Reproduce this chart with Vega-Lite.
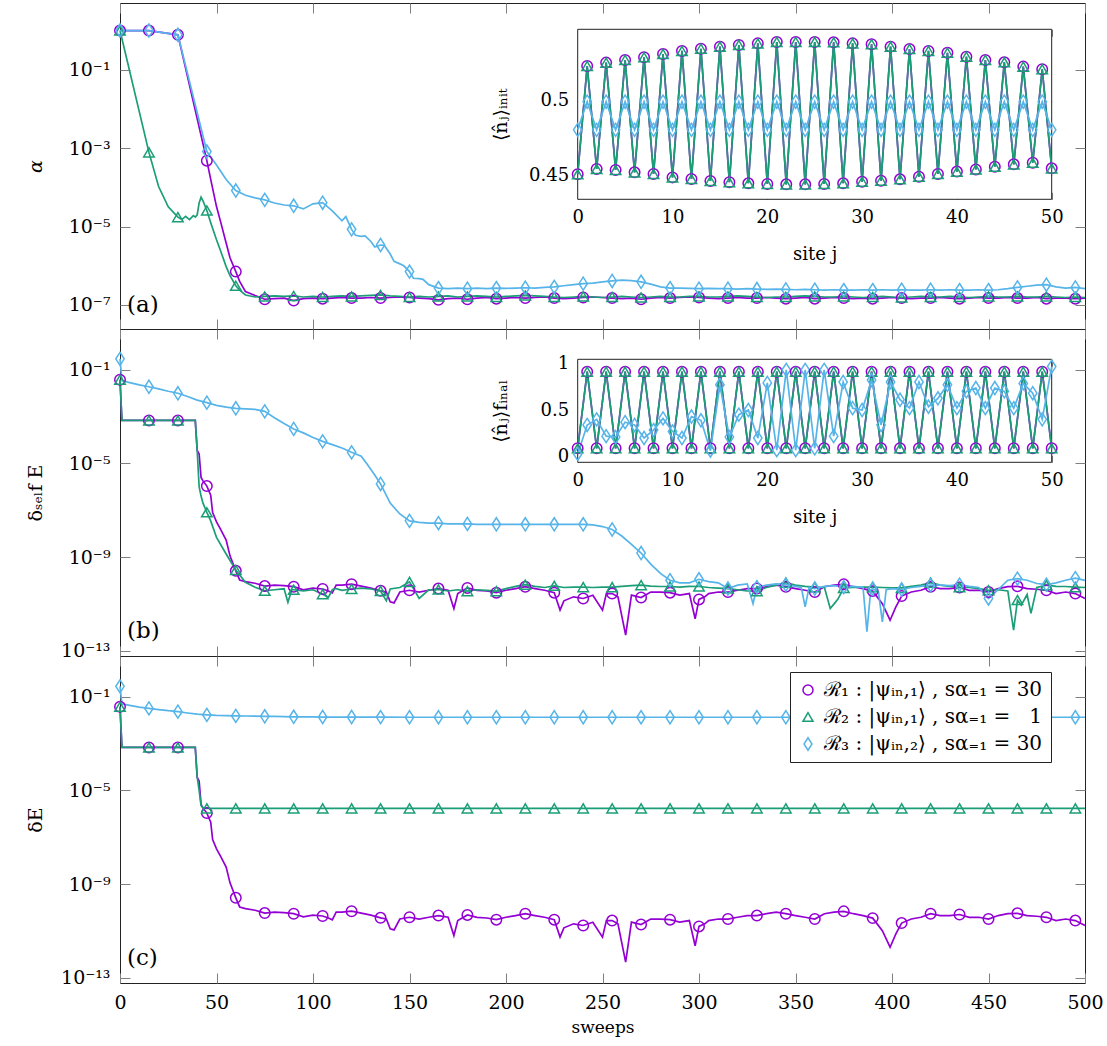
{
  "$schema": "https://vega.github.io/schema/vega-lite/v6.json",
  "autosize": {"type": "none"},
  "width": 965,
  "height": 980,
  "padding": {"left": 120, "top": 3, "right": 22, "bottom": 63},
  "background": "white",
  "config": {
    "font": "DejaVu Serif",
    "view": {"stroke": "#222", "strokeWidth": 1},
    "text": {"font": "DejaVu Serif"},
    "axis": {"grid": false, "domain": false, "tickSize": -10, "labelPadding": 20, "tickColor": "#808080", "tickWidth": 1, "labelFont": "DejaVu Serif", "labelFontSize": 19, "labelColor": "#000", "titleFont": "DejaVu Serif", "titleFontSize": 19, "titleFontWeight": "normal", "titleColor": "#000", "zindex": 1, "labelOverlap": false, "labelFlush": false, "labelBound": false},
    "legend": {"labelFont": "DejaVu Serif"}
  },
  "datasets": {
    "sweeps": [
      {"s":0,"a1":1,"a2":1,"a3":1,"b1":0.037,"b2":0.037,"b3":0.29,"c1":0.037,"c2":0.037,"c3":0.275},
      {"s":1,"b1":6.8e-4,"b2":6.8e-4,"b3":0.034,"c1":6.8e-4,"c2":6.8e-4,"c3":0.049},
      {"s":5,"b3":0.028,"c3":0.0427},
      {"s":10,"b3":0.0224,"c3":0.0355},
      {"s":15,"a1":1,"a2":7.8e-4,"a3":1,"b1":6.8e-4,"b2":6.8e-4,"b3":0.0186,"c1":6.8e-4,"c2":6.8e-4,"c3":0.0316},
      {"s":20,"a2":1.05e-4,"b3":0.0151,"c3":0.0282},
      {"s":25,"a2":3.2e-5,"b3":0.012,"c3":0.0251},
      {"s":30,"a1":0.78,"a2":1.74e-5,"a3":0.78,"b1":6.8e-4,"b2":6.8e-4,"b3":0.0098,"c1":6.8e-4,"c2":6.8e-4,"c3":0.0229},
      {"s":32,"a2":1.51e-5},
      {"s":34,"a2":1.82e-5},
      {"s":35,"b3":0.0071,"c3":0.02},
      {"s":36,"a2":1.51e-5},
      {"s":38,"a2":1.9e-5},
      {"s":39,"a2":1.74e-5,"b1":6.8e-4,"b2":6.8e-4,"c1":6.8e-4,"c2":6.8e-4},
      {"s":40,"a2":2.0e-5,"b1":3.55e-5,"b2":3.55e-5,"b3":0.005,"c1":3.55e-5,"c2":3.7e-5,"c3":0.0178},
      {"s":41,"a2":4.0e-5,"b1":2.5e-5,"b2":1.0e-6,"c1":2.5e-5,"c2":1.0e-5},
      {"s":42,"a2":5.6e-5,"b1":2.5e-6,"b2":4.0e-7,"c1":2.5e-6,"c2":2.24e-6},
      {"s":43,"a2":4.5e-5,"b1":1.78e-6,"b2":2.0e-7,"c1":1.78e-6,"c2":1.78e-6},
      {"s":45,"a1":4.8e-4,"a2":2.57e-5,"a3":8.2e-4,"b1":1.07e-6,"b2":8.1e-8,"b3":0.0039,"c1":1.07e-6,"c2":1.7e-6,"c3":0.0166},
      {"s":47,"a1":1.6e-4,"a2":1.26e-5,"b1":4.4e-7,"b2":3.5e-8,"c1":4.4e-7},
      {"s":48,"b1":7.9e-8,"c1":7.9e-8},
      {"s":50,"a1":3.24e-5,"a2":4.6e-6,"a3":3.72e-4,"b1":3.16e-8,"b2":6.9e-9,"b3":0.003,"c1":3.16e-8,"c3":0.0158},
      {"s":52,"a1":1.4e-5,"a2":2.5e-6,"b1":1.58e-8,"c1":1.58e-8},
      {"s":55,"a1":3.8e-6,"a2":9.5e-7,"a3":1.58e-4,"b1":5.25e-9,"b2":1.35e-9,"b3":0.0025,"c1":5.25e-9,"c3":0.0155},
      {"s":57,"a1":1.6e-6,"a2":5.6e-7,"b1":1.12e-9,"c1":1.12e-9},
      {"s":60,"a1":7.1e-7,"a2":3.1e-7,"a3":8.3e-5,"b1":2.57e-10,"b2":2.8e-10,"b3":0.00224,"c1":2.57e-10,"c2":1.7e-6,"c3":0.0151},
      {"s":62,"a1":4.0e-7,"a2":2.4e-7,"b1":1.05e-10,"c1":1.05e-10},
      {"s":65,"a1":2.2e-7,"a2":1.8e-7,"a3":6.3e-5,"b1":8.9e-11,"b2":8.3e-11,"b3":0.0021,"c1":8.9e-11,"c3":0.0149},
      {"s":70,"a1":1.74e-7,"a2":1.6e-7,"a3":5.4e-5,"b1":7.6e-11,"b2":5.1e-11,"b3":0.002,"c1":7.6e-11,"c3":0.0147},
      {"s":75,"a1":1.4e-7,"a2":1.65e-7,"a3":4.8e-5,"b1":5.75e-11,"b2":3.6e-11,"b3":0.00166,"c1":5.75e-11,"c2":1.7e-6,"c3":0.0145},
      {"s":80,"a1":1.45e-7,"a2":1.7e-7,"a3":4.0e-5,"b1":6.3e-11,"b2":4.0e-11,"b3":8.9e-4,"c1":6.3e-11,"c3":0.0143},
      {"s":85,"a1":1.5e-7,"a2":1.65e-7,"a3":3.55e-5,"b1":6.0e-11,"b2":4.4e-11,"b3":5.0e-4,"c1":6.0e-11,"c3":0.014},
      {"s":87,"b2":1.17e-11},
      {"s":89,"b2":4.0e-11},
      {"s":90,"a1":1.3e-7,"a2":1.7e-7,"a3":3.39e-5,"b1":5.4e-11,"b2":4.0e-11,"b3":2.95e-4,"c1":5.4e-11,"c2":1.7e-6,"c3":0.0138},
      {"s":95,"a1":1.45e-7,"a2":1.6e-7,"a3":2.82e-5,"b1":4.0e-11,"b2":3.55e-11,"b3":2.0e-4,"c1":4.0e-11,"c3":0.0137},
      {"s":100,"a1":1.5e-7,"a2":1.65e-7,"a3":3.8e-5,"b1":4.7e-11,"b2":4.0e-11,"b3":1.26e-4,"c1":4.7e-11,"c3":0.0136},
      {"s":105,"a1":1.45e-7,"a2":1.6e-7,"a3":4.07e-5,"b1":4.3e-11,"b2":2.6e-11,"b3":8.7e-5,"c1":4.3e-11,"c2":1.7e-6,"c3":0.0135},
      {"s":108,"b1":3.55e-11,"b2":1.9e-11,"c1":3.55e-11},
      {"s":110,"a1":1.5e-7,"a2":1.65e-7,"a3":2.5e-5,"b1":2.95e-11,"b2":4.0e-11,"b3":6.3e-5,"c1":2.95e-11},
      {"s":112,"b1":6.3e-11,"b2":4.5e-11,"c1":6.3e-11},
      {"s":115,"a1":1.55e-7,"a2":1.7e-7,"a3":1.41e-5,"b1":6.3e-11,"b2":3.8e-11,"b3":4.5e-5,"c1":6.3e-11},
      {"s":117,"a3":1.8e-5},
      {"s":120,"a1":1.5e-7,"a2":1.65e-7,"a3":8.5e-6,"b1":6.9e-11,"b2":4.3e-11,"b3":2.95e-5,"c1":6.9e-11,"c2":1.7e-6,"c3":0.0135},
      {"s":122,"a3":6.0e-6},
      {"s":125,"a1":1.5e-7,"a2":1.7e-7,"a3":5.6e-6,"b1":5.75e-11,"b2":4.7e-11,"b3":2.0e-5,"c1":5.75e-11},
      {"s":127,"a3":5.8e-6},
      {"s":128,"b3":9.3e-6},
      {"s":130,"a1":1.55e-7,"a2":1.75e-7,"a3":4.17e-6,"b1":4.7e-11,"b2":4.3e-11,"c1":4.7e-11},
      {"s":132,"a3":3.0e-6,"b3":3.16e-6},
      {"s":135,"a1":1.5e-7,"a2":1.8e-7,"a3":3.39e-6,"b1":3.6e-11,"b2":3.55e-11,"b3":1.32e-6,"c1":3.6e-11,"c2":1.7e-6,"c3":0.0134},
      {"s":137,"a3":3.3e-6},
      {"s":138,"b1":3.2e-11,"b2":1.35e-11,"c1":3.2e-11},
      {"s":140,"a1":1.55e-7,"a2":1.7e-7,"a3":2.0e-6,"b1":1.23e-11,"b2":4.3e-11,"b3":2.0e-7,"c1":1.23e-11},
      {"s":142,"a3":1.3e-6,"b1":1.1e-11,"c1":1.1e-11},
      {"s":145,"a1":1.6e-7,"a2":1.65e-7,"a3":1.12e-6,"b1":3.2e-11,"b2":5.0e-11,"b3":6.9e-8,"c1":3.2e-11},
      {"s":147,"a3":1.0e-6},
      {"s":150,"a1":1.55e-7,"a2":1.6e-7,"a3":7.1e-7,"b1":3.8e-11,"b2":8.7e-11,"b3":3.5e-8,"c1":3.8e-11,"c2":1.7e-6,"c3":0.0132},
      {"s":152,"a3":4.8e-7},
      {"s":155,"a1":1.5e-7,"a2":1.65e-7,"a3":4.7e-7,"b1":3.2e-11,"b2":1.7e-11,"b3":3.0e-8,"c1":3.2e-11},
      {"s":157,"a3":4.5e-7},
      {"s":160,"a1":1.45e-7,"a2":1.6e-7,"a3":3.3e-7,"b1":3.8e-11,"b2":4.0e-11,"b3":2.8e-8,"c1":3.8e-11},
      {"s":165,"a1":1.35e-7,"a2":1.65e-7,"a3":2.7e-7,"b1":4.5e-11,"b2":4.1e-11,"b3":2.8e-8,"c1":4.5e-11,"c2":1.7e-6,"c3":0.0132},
      {"s":170,"a1":1.45e-7,"a2":1.7e-7,"a3":2.6e-7,"b1":3.8e-11,"b2":3.55e-11,"b3":2.6e-8,"c1":3.8e-11},
      {"s":173,"b1":6.3e-12,"c1":6.3e-12},
      {"s":175,"a1":1.5e-7,"a2":1.6e-7,"a3":2.7e-7,"b1":2.75e-11,"b2":4.0e-11,"b3":2.6e-8,"c1":2.75e-11},
      {"s":180,"a1":1.4e-7,"a2":1.65e-7,"a3":2.6e-7,"b1":4.8e-11,"b2":3.5e-11,"b3":2.6e-8,"c1":4.8e-11,"c2":1.7e-6,"c3":0.0132},
      {"s":185,"a1":1.5e-7,"a2":1.7e-7,"a3":2.7e-7,"b1":3.8e-11,"b2":4.0e-11,"b3":2.5e-8,"c1":3.8e-11},
      {"s":190,"a1":1.55e-7,"a2":1.65e-7,"a3":2.6e-7,"b1":3.55e-11,"b2":3.8e-11,"b3":2.5e-8,"c1":3.55e-11},
      {"s":195,"a1":1.45e-7,"a2":1.6e-7,"a3":2.7e-7,"b1":3.0e-11,"b2":3.5e-11,"b3":2.5e-8,"c1":3.0e-11,"c2":1.7e-6,"c3":0.0132},
      {"s":200,"a1":1.5e-7,"a2":1.65e-7,"a3":2.65e-7,"b1":3.8e-11,"b2":4.5e-11,"b3":2.5e-8,"c1":3.8e-11},
      {"s":205,"a1":1.55e-7,"a2":1.7e-7,"a3":2.7e-7,"b1":4.5e-11,"b2":5.6e-11,"b3":2.5e-8,"c1":4.5e-11},
      {"s":210,"a1":1.5e-7,"a2":1.75e-7,"a3":2.75e-7,"b1":5.4e-11,"b2":6.6e-11,"b3":2.5e-8,"c1":5.4e-11,"c2":1.7e-6,"c3":0.0132},
      {"s":215,"a1":1.55e-7,"a2":1.7e-7,"a3":2.7e-7,"b1":4.5e-11,"b2":5.6e-11,"b3":2.5e-8,"c1":4.5e-11},
      {"s":220,"a1":1.6e-7,"a2":1.65e-7,"a3":2.8e-7,"b1":3.8e-11,"b2":5.0e-11,"b3":2.5e-8,"c1":3.8e-11},
      {"s":225,"a1":1.5e-7,"a2":1.6e-7,"a3":2.9e-7,"b1":3.0e-11,"b2":5.9e-11,"b3":2.5e-8,"c1":3.0e-11,"c2":1.7e-6,"c3":0.0132},
      {"s":228,"b1":5.4e-12,"c1":5.4e-12},
      {"s":230,"a1":1.45e-7,"a2":1.55e-7,"a3":3.1e-7,"b1":1.35e-11,"b2":5.0e-11,"b3":2.5e-8,"c1":1.35e-11},
      {"s":235,"a1":1.5e-7,"a2":1.6e-7,"a3":3.3e-7,"b1":2.0e-11,"b2":5.2e-11,"b3":2.5e-8,"c1":2.0e-11},
      {"s":240,"a1":1.55e-7,"a2":1.65e-7,"a3":3.5e-7,"b1":1.7e-11,"b2":5.2e-11,"b3":2.5e-8,"c1":1.7e-11,"c2":1.7e-6,"c3":0.0132},
      {"s":245,"a1":1.6e-7,"a2":1.6e-7,"a3":3.6e-7,"b1":2.35e-11,"b2":5.0e-11,"b3":2.35e-8,"c1":2.35e-11},
      {"s":250,"a1":1.55e-7,"a2":1.55e-7,"a3":3.9e-7,"b1":5.4e-12,"b2":5.2e-11,"b3":2.0e-8,"c1":5.4e-12},
      {"s":252,"b1":2.75e-11,"c1":2.75e-11},
      {"s":255,"a1":1.5e-7,"a2":1.6e-7,"a3":4.1e-7,"b1":2.75e-11,"b2":5.2e-11,"b3":1.5e-8,"c1":2.75e-11,"c2":1.7e-6,"c3":0.0132},
      {"s":258,"b1":2.0e-11,"c1":2.0e-11},
      {"s":260,"a1":1.45e-7,"a2":1.65e-7,"a3":4.3e-7,"b2":5.6e-11,"b3":7.9e-9},
      {"s":262,"b1":4.6e-13,"c1":4.6e-13},
      {"s":265,"a1":1.5e-7,"a2":1.6e-7,"a3":4.2e-7,"b1":2.35e-11,"b2":6.0e-11,"b3":3.5e-9,"c1":2.35e-11},
      {"s":270,"a1":1.4e-7,"a2":1.55e-7,"a3":3.9e-7,"b1":1.86e-11,"b2":6.3e-11,"b3":1.48e-9,"c1":1.86e-11,"c2":1.7e-6,"c3":0.0132},
      {"s":275,"a1":1.5e-7,"a2":1.6e-7,"a3":3.4e-7,"b1":3.2e-11,"b2":5.75e-11,"b3":5.0e-10,"c1":3.2e-11},
      {"s":280,"a1":1.55e-7,"a2":1.65e-7,"a3":2.9e-7,"b1":3.2e-11,"b2":5.5e-11,"b3":2.0e-10,"c1":3.2e-11},
      {"s":285,"a1":1.5e-7,"a2":1.6e-7,"a3":2.7e-7,"b1":3.0e-11,"b2":5.5e-11,"b3":1.02e-10,"c1":3.0e-11,"c2":1.7e-6,"c3":0.0132},
      {"s":290,"a1":1.55e-7,"a2":1.6e-7,"a3":2.7e-7,"b1":2.35e-11,"b2":5.2e-11,"b3":7.9e-11,"c1":2.35e-11},
      {"s":295,"a1":1.6e-7,"a2":1.65e-7,"a3":2.65e-7,"b1":2.75e-11,"b2":5.6e-11,"b3":7.9e-11,"c1":2.75e-11},
      {"s":298,"b1":2.3e-12,"c1":2.3e-12},
      {"s":300,"a1":1.55e-7,"a2":1.65e-7,"a3":2.6e-7,"b1":1.55e-11,"b2":5.5e-11,"b3":1.12e-10,"c1":1.55e-11,"c2":1.7e-6,"c3":0.0132},
      {"s":303,"b1":2.0e-11,"c1":2.0e-11},
      {"s":305,"a1":1.5e-7,"a2":1.6e-7,"a3":2.65e-7,"b1":2.75e-11,"b2":5.0e-11,"b3":8.9e-11,"c1":2.75e-11},
      {"s":310,"a1":1.45e-7,"a2":1.6e-7,"a3":2.6e-7,"b1":3.2e-11,"b2":4.7e-11,"b3":7.9e-11,"c1":3.2e-11},
      {"s":315,"a1":1.5e-7,"a2":1.65e-7,"a3":2.6e-7,"b1":3.2e-11,"b2":4.5e-11,"b3":4.5e-11,"c1":3.2e-11,"c2":1.7e-6,"c3":0.0132},
      {"s":320,"a1":1.55e-7,"a2":1.7e-7,"a3":2.55e-7,"b1":3.8e-11,"b2":4.0e-11,"b3":6.3e-11,"c1":3.8e-11},
      {"s":325,"a1":1.5e-7,"a2":1.65e-7,"a3":2.6e-7,"b1":4.5e-11,"b2":3.55e-11,"b3":7.1e-11,"c1":4.5e-11},
      {"s":328,"b3":1.02e-11},
      {"s":330,"a1":1.5e-7,"a2":1.6e-7,"a3":2.55e-7,"b1":4.5e-11,"b2":3.5e-11,"b3":5.2e-11,"c1":4.5e-11,"c2":1.7e-6,"c3":0.0132},
      {"s":335,"a1":1.55e-7,"a2":1.55e-7,"a3":2.5e-7,"b1":5.4e-11,"b2":5.0e-11,"b3":6.3e-11,"c1":5.4e-11},
      {"s":340,"a1":1.5e-7,"a2":1.6e-7,"a3":2.55e-7,"b1":6.3e-11,"b2":6.3e-11,"b3":7.1e-11,"c1":6.3e-11},
      {"s":345,"a1":1.45e-7,"a2":1.6e-7,"a3":2.5e-7,"b1":5.4e-11,"b2":8.1e-11,"b3":6.6e-11,"c1":5.4e-11,"c2":1.7e-6,"c3":0.0132},
      {"s":350,"a1":1.5e-7,"a2":1.65e-7,"a3":2.45e-7,"b1":4.5e-11,"b2":6.3e-11,"b3":5.6e-11,"c1":4.5e-11},
      {"s":353,"b3":5.0e-11},
      {"s":355,"a1":1.55e-7,"a2":1.7e-7,"a3":2.5e-7,"b1":3.8e-11,"b2":5.6e-11,"b3":7.4e-12,"c1":3.8e-11},
      {"s":357,"b3":5.0e-11},
      {"s":360,"a1":1.45e-7,"a2":1.65e-7,"a3":2.45e-7,"b1":3.2e-11,"b2":5.2e-11,"b3":4.5e-11,"c1":3.2e-11,"c2":1.7e-6,"c3":0.0132},
      {"s":365,"a1":1.5e-7,"a2":1.6e-7,"a3":2.4e-7,"b1":5.4e-11,"b2":5.0e-11,"b3":5.6e-11,"c1":5.4e-11},
      {"s":368,"b2":6.3e-12},
      {"s":370,"a1":1.55e-7,"a2":1.6e-7,"a3":2.45e-7,"b1":6.3e-11,"b2":1.0e-11,"b3":6.0e-11,"c1":6.3e-11},
      {"s":372,"b2":1.6e-11},
      {"s":375,"a1":1.5e-7,"a2":1.65e-7,"a3":2.4e-7,"b1":6.8e-11,"b2":4.8e-11,"b3":5.2e-11,"c1":6.8e-11,"c2":1.7e-6,"c3":0.0132},
      {"s":380,"a1":1.45e-7,"a2":1.6e-7,"a3":2.4e-7,"b1":5.4e-11,"b2":5.0e-11,"b3":5.6e-11,"c1":5.4e-11},
      {"s":385,"a1":1.5e-7,"a2":1.55e-7,"a3":2.45e-7,"b1":4.5e-11,"b2":5.2e-11,"b3":5.0e-11,"c1":4.5e-11},
      {"s":387,"b3":6.5e-13},
      {"s":389,"b3":4.0e-11},
      {"s":390,"a1":1.45e-7,"a2":1.6e-7,"a3":2.4e-7,"b1":3.5e-11,"b2":5.2e-11,"b3":4.5e-11,"c1":3.5e-11,"c2":1.7e-6,"c3":0.0132},
      {"s":393,"b3":3.2e-11},
      {"s":395,"a1":1.5e-7,"a2":1.65e-7,"a3":2.45e-7,"b1":1.02e-11,"b2":5.0e-11,"b3":1.7e-12,"c1":1.02e-11},
      {"s":397,"b3":4.0e-11},
      {"s":399,"b1":2.0e-12,"c1":2.0e-12},
      {"s":400,"a1":1.55e-7,"a2":1.6e-7,"a3":2.4e-7,"b2":4.8e-11,"b3":4.5e-11},
      {"s":402,"b1":7.4e-12,"c1":7.4e-12},
      {"s":405,"a1":1.5e-7,"a2":1.55e-7,"a3":2.45e-7,"b1":2.15e-11,"b2":4.8e-11,"b3":4.1e-11,"c1":2.15e-11,"c2":1.7e-6,"c3":0.0132},
      {"s":410,"a1":1.45e-7,"a2":1.6e-7,"a3":2.4e-7,"b1":3.2e-11,"b2":5.6e-11,"b3":5.0e-11,"c1":3.2e-11},
      {"s":415,"a1":1.5e-7,"a2":1.65e-7,"a3":2.4e-7,"b1":3.8e-11,"b2":6.3e-11,"b3":5.6e-11,"c1":3.8e-11},
      {"s":420,"a1":1.5e-7,"a2":1.6e-7,"a3":2.45e-7,"b1":5.4e-11,"b2":8.1e-11,"b3":6.3e-11,"c1":5.4e-11,"c2":1.7e-6,"c3":0.0132},
      {"s":425,"a1":1.55e-7,"a2":1.6e-7,"a3":2.4e-7,"b1":4.5e-11,"b2":6.3e-11,"b3":6.3e-11,"c1":4.5e-11},
      {"s":430,"a1":1.5e-7,"a2":1.65e-7,"a3":2.45e-7,"b1":4.5e-11,"b2":5.6e-11,"b3":6.0e-11,"c1":4.5e-11},
      {"s":435,"a1":1.45e-7,"a2":1.6e-7,"a3":2.4e-7,"b1":5.0e-11,"b2":5.2e-11,"b3":6.6e-11,"c1":5.0e-11,"c2":1.7e-6,"c3":0.0132},
      {"s":440,"a1":1.5e-7,"a2":1.55e-7,"a3":2.4e-7,"b1":3.8e-11,"b2":5.0e-11,"b3":5.6e-11,"c1":3.8e-11},
      {"s":445,"a1":1.55e-7,"a2":1.6e-7,"a3":2.45e-7,"b1":3.8e-11,"b2":4.5e-11,"b3":5.0e-11,"c1":3.8e-11},
      {"s":450,"a1":1.5e-7,"a2":1.65e-7,"a3":2.4e-7,"b1":3.2e-11,"b2":3.8e-11,"b3":1.7e-11,"c1":3.2e-11,"c2":1.7e-6,"c3":0.0132},
      {"s":455,"a1":1.5e-7,"a2":1.6e-7,"a3":2.45e-7,"b1":4.5e-11,"b2":4.0e-11,"b3":4.1e-11,"c1":4.5e-11},
      {"s":460,"a1":1.55e-7,"a2":1.6e-7,"a3":2.6e-7,"b1":5.4e-11,"b2":3.55e-11,"b3":1.02e-10,"c1":5.4e-11},
      {"s":463,"b2":7.6e-13},
      {"s":465,"a1":1.5e-7,"a2":1.65e-7,"a3":2.8e-7,"b1":5.6e-11,"b2":1.45e-11,"b3":1.2e-10,"c1":5.6e-11,"c2":1.7e-6,"c3":0.0132},
      {"s":467,"b2":8.7e-12},
      {"s":470,"a1":1.5e-7,"a2":1.6e-7,"a3":3.0e-7,"b1":4.5e-11,"b2":2.5e-11,"b3":1.02e-10,"c1":4.5e-11},
      {"s":472,"b2":3.9e-12},
      {"s":475,"a1":1.55e-7,"a2":1.6e-7,"a3":3.2e-7,"b1":4.2e-11,"b2":5.0e-11,"b3":7.4e-11,"c1":4.2e-11},
      {"s":480,"a1":1.45e-7,"a2":1.65e-7,"a3":3.3e-7,"b1":3.8e-11,"b2":6.3e-11,"b3":6.6e-11,"c1":3.8e-11,"c2":1.7e-6,"c3":0.0132},
      {"s":485,"a1":1.5e-7,"a2":1.6e-7,"a3":2.9e-7,"b1":2.75e-11,"b2":5.6e-11,"b3":7.9e-11,"c1":2.75e-11},
      {"s":490,"a1":1.5e-7,"a2":1.55e-7,"a3":2.7e-7,"b1":3.2e-11,"b2":5.5e-11,"b3":1.02e-10,"c1":3.2e-11},
      {"s":495,"a1":1.45e-7,"a2":1.6e-7,"a3":2.8e-7,"b1":2.75e-11,"b2":5.2e-11,"b3":1.26e-10,"c1":2.75e-11,"c2":1.7e-6,"c3":0.0132},
      {"s":500,"a1":1.5e-7,"a2":1.55e-7,"a3":2.6e-7,"b1":1.7e-11,"b2":5.0e-11,"b3":1.0e-10,"c1":1.7e-11,"c2":1.7e-6,"c3":0.0132}
    ],
    "sites": [
      {"j":0,"n1":0.4505,"n2":0.4505,"n3":0.4805,"m1":0.09,"m2":0.09,"m3":0.03},
      {"j":1,"n1":0.5236,"n2":0.5236,"n3":0.4995,"m1":0.91,"m2":0.91,"m3":0.34},
      {"j":2,"n1":0.4541,"n2":0.4541,"n3":0.4805,"m1":0.09,"m2":0.09,"m3":0.40},
      {"j":3,"n1":0.5259,"n2":0.5259,"n3":0.4995,"m1":0.91,"m2":0.91,"m3":0.22},
      {"j":4,"n1":0.4534,"n2":0.4534,"n3":0.4805,"m1":0.09,"m2":0.09,"m3":0.21},
      {"j":5,"n1":0.5277,"n2":0.5277,"n3":0.4995,"m1":0.91,"m2":0.91,"m3":0.37},
      {"j":6,"n1":0.4518,"n2":0.4518,"n3":0.4805,"m1":0.09,"m2":0.09,"m3":0.34},
      {"j":7,"n1":0.5295,"n2":0.5295,"n3":0.4995,"m1":0.91,"m2":0.91,"m3":0.20},
      {"j":8,"n1":0.4507,"n2":0.4507,"n3":0.4805,"m1":0.09,"m2":0.09,"m3":0.285},
      {"j":9,"n1":0.5317,"n2":0.5317,"n3":0.4995,"m1":0.91,"m2":0.91,"m3":0.41},
      {"j":10,"n1":0.4484,"n2":0.4484,"n3":0.4805,"m1":0.09,"m2":0.09,"m3":0.27},
      {"j":11,"n1":0.5338,"n2":0.5338,"n3":0.4995,"m1":0.91,"m2":0.91,"m3":0.20},
      {"j":12,"n1":0.4473,"n2":0.4473,"n3":0.4805,"m1":0.09,"m2":0.09,"m3":0.43},
      {"j":13,"n1":0.5353,"n2":0.5353,"n3":0.4995,"m1":0.91,"m2":0.91,"m3":0.39},
      {"j":14,"n1":0.4460,"n2":0.4460,"n3":0.4805,"m1":0.09,"m2":0.09,"m3":0.065},
      {"j":15,"n1":0.5367,"n2":0.5367,"n3":0.4995,"m1":0.91,"m2":0.91,"m3":0.77},
      {"j":16,"n1":0.4451,"n2":0.4451,"n3":0.4805,"m1":0.09,"m2":0.09,"m3":0.21},
      {"j":17,"n1":0.5378,"n2":0.5378,"n3":0.4995,"m1":0.91,"m2":0.91,"m3":0.45},
      {"j":18,"n1":0.4444,"n2":0.4444,"n3":0.4805,"m1":0.09,"m2":0.09,"m3":0.50},
      {"j":19,"n1":0.5389,"n2":0.5389,"n3":0.4995,"m1":0.91,"m2":0.91,"m3":0.20},
      {"j":20,"n1":0.4439,"n2":0.4439,"n3":0.4805,"m1":0.09,"m2":0.09,"m3":0.79},
      {"j":21,"n1":0.5398,"n2":0.5398,"n3":0.4995,"m1":0.91,"m2":0.91,"m3":0.07},
      {"j":22,"n1":0.4437,"n2":0.4437,"n3":0.4805,"m1":0.09,"m2":0.09,"m3":0.93},
      {"j":23,"n1":0.5398,"n2":0.5398,"n3":0.4995,"m1":0.91,"m2":0.91,"m3":0.07},
      {"j":24,"n1":0.4437,"n2":0.4437,"n3":0.4805,"m1":0.09,"m2":0.09,"m3":0.93},
      {"j":25,"n1":0.5398,"n2":0.5398,"n3":0.4995,"m1":0.91,"m2":0.91,"m3":0.09},
      {"j":26,"n1":0.4439,"n2":0.4439,"n3":0.4805,"m1":0.09,"m2":0.09,"m3":0.93},
      {"j":27,"n1":0.5396,"n2":0.5396,"n3":0.4995,"m1":0.91,"m2":0.91,"m3":0.22},
      {"j":28,"n1":0.4444,"n2":0.4444,"n3":0.4805,"m1":0.09,"m2":0.09,"m3":0.80},
      {"j":29,"n1":0.5389,"n2":0.5389,"n3":0.4995,"m1":0.91,"m2":0.91,"m3":0.52},
      {"j":30,"n1":0.4455,"n2":0.4455,"n3":0.4805,"m1":0.09,"m2":0.09,"m3":0.50},
      {"j":31,"n1":0.5383,"n2":0.5383,"n3":0.4995,"m1":0.91,"m2":0.91,"m3":0.82},
      {"j":32,"n1":0.4462,"n2":0.4462,"n3":0.4805,"m1":0.09,"m2":0.09,"m3":0.34},
      {"j":33,"n1":0.5367,"n2":0.5367,"n3":0.4995,"m1":0.91,"m2":0.91,"m3":0.80},
      {"j":34,"n1":0.4471,"n2":0.4471,"n3":0.4805,"m1":0.09,"m2":0.09,"m3":0.61},
      {"j":35,"n1":0.5351,"n2":0.5351,"n3":0.4995,"m1":0.91,"m2":0.91,"m3":0.52},
      {"j":36,"n1":0.4489,"n2":0.4489,"n3":0.4805,"m1":0.09,"m2":0.09,"m3":0.80},
      {"j":37,"n1":0.5338,"n2":0.5338,"n3":0.4995,"m1":0.91,"m2":0.91,"m3":0.535},
      {"j":38,"n1":0.4507,"n2":0.4507,"n3":0.4805,"m1":0.09,"m2":0.09,"m3":0.625},
      {"j":39,"n1":0.5326,"n2":0.5326,"n3":0.4995,"m1":0.91,"m2":0.91,"m3":0.77},
      {"j":40,"n1":0.4523,"n2":0.4523,"n3":0.4805,"m1":0.09,"m2":0.09,"m3":0.52},
      {"j":41,"n1":0.5299,"n2":0.5299,"n3":0.4995,"m1":0.91,"m2":0.91,"m3":0.70},
      {"j":42,"n1":0.4538,"n2":0.4538,"n3":0.4805,"m1":0.09,"m2":0.09,"m3":0.735},
      {"j":43,"n1":0.5277,"n2":0.5277,"n3":0.4995,"m1":0.91,"m2":0.91,"m3":0.52},
      {"j":44,"n1":0.4556,"n2":0.4556,"n3":0.4805,"m1":0.09,"m2":0.09,"m3":0.735},
      {"j":45,"n1":0.5261,"n2":0.5261,"n3":0.4995,"m1":0.91,"m2":0.91,"m3":0.70},
      {"j":46,"n1":0.4572,"n2":0.4572,"n3":0.4805,"m1":0.09,"m2":0.09,"m3":0.52},
      {"j":47,"n1":0.5232,"n2":0.5232,"n3":0.4995,"m1":0.91,"m2":0.91,"m3":0.785},
      {"j":48,"n1":0.4583,"n2":0.4583,"n3":0.4805,"m1":0.09,"m2":0.09,"m3":0.68},
      {"j":49,"n1":0.5214,"n2":0.5214,"n3":0.4995,"m1":0.91,"m2":0.91,"m3":0.40},
      {"j":50,"n1":0.4545,"n2":0.4545,"n3":0.4805,"m1":0.09,"m2":0.09,"m3":0.965}
    ]
  },
  "layer": [
    {
      "layer": [
        {
          "data": {"name": "sweeps"},
          "transform": [{"fold": ["a1", "a2", "a3"], "as": ["key", "value"]}, {"filter": "isValid(datum.value)"}],
          "mark": {"type": "line", "strokeWidth": 1.7},
          "encoding": {
            "x": {"field": "s", "type": "quantitative", "scale": {"domain": [0, 500], "nice": false, "zero": false}, "axis": {"orient": "bottom", "offset": -654, "values": [0,50,100,150,200,250,300,350,400,450,500], "labels": false, "title": null, "domain": true, "domainColor": "#222", "domainWidth": 1}},
            "y": {"field": "value", "type": "quantitative", "scale": {"type": "log", "domain": [2.44e-8, 5.05], "range": [326, 0], "nice": false}, "axis": {"orient": "left", "values": [0.1, 0.001, 0.00001, 0.0000001], "labelExpr": "datum.value > 0.01 ? '10⁻¹' : datum.value > 0.0001 ? '10⁻³' : datum.value > 0.000001 ? '10⁻⁵' : '10⁻⁷'", "title": "α", "titleX": -85, "titleBaseline": "middle", "titleFontStyle": "italic"}},
            "stroke": {"field": "key", "type": "nominal", "scale": {"domain": ["a1","a2","a3","b1","b2","b3","c1","c2","c3","m1","m2","m3","n1","n2","n3"], "range": ["#9400d3","#1b9e77","#56b4e9","#9400d3","#1b9e77","#56b4e9","#9400d3","#1b9e77","#56b4e9","#9400d3","#1b9e77","#56b4e9","#9400d3","#1b9e77","#56b4e9"]}, "legend": null}
          }
        },
        {
          "data": {"name": "sweeps"},
          "transform": [{"fold": ["a1", "a2", "a3"], "as": ["key", "value"]}, {"filter": "isValid(datum.value) && datum.s % 15 == 0"}],
          "mark": {"type": "point", "filled": false, "strokeWidth": 1.5, "size": 110, "opacity": 1},
          "encoding": {
            "x": {"field": "s", "type": "quantitative", "axis": {"orient": "top", "values": [0,50,100,150,200,250,300,350,400,450,500], "labels": false, "title": null}},
            "y": {"field": "value", "type": "quantitative", "axis": {"orient": "right", "values": [0.1, 0.001, 0.00001, 0.0000001], "labels": false, "title": null}},
            "color": {"field": "key", "type": "nominal", "scale": {"domain": ["c1","c2","c3","a1","a2","a3","n1","n2","n3","b1","b2","b3","m1","m2","m3"], "range": ["#9400d3","#1b9e77","#56b4e9","#9400d3","#1b9e77","#56b4e9","#9400d3","#1b9e77","#56b4e9","#9400d3","#1b9e77","#56b4e9","#9400d3","#1b9e77","#56b4e9"]}},
            "shape": {"field": "key", "type": "nominal", "scale": {"domain": ["c1","c2","c3","a1","a2","a3","n1","n2","n3","b1","b2","b3","m1","m2","m3"], "range": ["circle","triangle-up","M0,-1.25L0.8,0L0,1.25L-0.8,0Z","circle","triangle-up","M0,-1.25L0.8,0L0,1.25L-0.8,0Z","circle","triangle-up","M0,-1.25L0.8,0L0,1.25L-0.8,0Z","circle","triangle-up","M0,-1.25L0.8,0L0,1.25L-0.8,0Z","circle","triangle-up","M0,-1.25L0.8,0L0,1.25L-0.8,0Z"]}}
          }
        },
        {
          "data": {"values": [{}]},
          "mark": {"type": "text", "text": "(a)", "align": "left", "baseline": "middle", "dx": 7, "fontSize": 23},
          "encoding": {"x": {"datum": 0, "type": "quantitative", "axis": null}, "y": {"datum": 1e-7, "type": "quantitative", "axis": null}}
        }
      ],
      "resolve": {"axis": {"x": "independent", "y": "independent"}}
    },
    {
      "layer": [
        {
          "data": {"values": [{}]},
          "mark": {"type": "rect", "fill": "white", "stroke": "#222", "strokeWidth": 1},
          "encoding": {
            "x": {"datum": 0, "type": "quantitative", "scale": {"domain": [0, 50], "range": [457.7, 931.7], "nice": false, "zero": false}, "axis": {"orient": "bottom", "offset": -783.7, "values": [0,10,20,30,40,50], "format": "d", "title": "site j", "titleY": 55, "titleBaseline": "middle", "tickSize": -7, "labelPadding": 16, "labelFontSize": 18, "titleFontSize": 18}},
            "x2": {"datum": 50},
            "y": {"datum": 0.4336, "type": "quantitative", "scale": {"domain": [0.4336, 0.5484], "range": [196.3, 26.3], "nice": false, "zero": false}, "axis": {"orient": "left", "offset": -457.7, "values": [0.45, 0.5], "format": "~g", "title": "⟨n̂ⱼ⟩ᵢₙᵢₜ", "titleX": -77, "titleBaseline": "middle", "tickSize": -7, "labelPadding": 16, "labelFontSize": 18, "titleFontSize": 19}},
            "y2": {"datum": 0.5484}
          }
        },
        {
          "data": {"name": "sites"},
          "transform": [{"fold": ["n1", "n2", "n3"], "as": ["key", "value"]}],
          "mark": {"type": "line", "strokeWidth": 1.7},
          "encoding": {
            "x": {"field": "j", "type": "quantitative", "axis": null},
            "y": {"field": "value", "type": "quantitative", "axis": null},
            "stroke": {"field": "key", "type": "nominal", "legend": null}
          }
        },
        {
          "data": {"name": "sites"},
          "transform": [{"fold": ["n1", "n2", "n3"], "as": ["key", "value"]}],
          "mark": {"type": "point", "filled": false, "strokeWidth": 1.5, "size": 110, "opacity": 1},
          "encoding": {
            "x": {"field": "j", "type": "quantitative", "axis": {"orient": "top", "offset": -26.3, "values": [0,10,20,30,40,50], "labels": false, "title": null, "tickSize": -7}},
            "y": {"field": "value", "type": "quantitative", "axis": {"orient": "right", "offset": -33.3, "values": [0.45, 0.5], "labels": false, "title": null, "tickSize": -7}},
            "color": {"field": "key", "type": "nominal"},
            "shape": {"field": "key", "type": "nominal"}
          }
        }
      ],
      "resolve": {"axis": {"x": "independent", "y": "independent"}}
    },
    {
      "layer": [
        {
          "data": {"name": "sweeps"},
          "transform": [{"fold": ["b1", "b2", "b3"], "as": ["key", "value"]}, {"filter": "isValid(datum.value)"}],
          "mark": {"type": "line", "strokeWidth": 1.7},
          "encoding": {
            "x": {"field": "s", "type": "quantitative", "scale": {"domain": [0, 500], "nice": false, "zero": false}, "axis": {"orient": "bottom", "offset": -327, "values": [0,50,100,150,200,250,300,350,400,450,500], "labels": false, "title": null, "domain": true, "domainColor": "#222", "domainWidth": 1}},
            "y": {"field": "value", "type": "quantitative", "scale": {"type": "log", "domain": [5.94e-14, 5.445], "range": [653, 326], "nice": false}, "axis": {"orient": "left", "values": [0.1, 0.00001, 0.000000001, 0.0000000000001], "labelExpr": "datum.value > 0.01 ? '10⁻¹' : datum.value > 0.0000001 ? '10⁻⁵' : datum.value > 0.00000000001 ? '10⁻⁹' : '10⁻¹³'", "title": "δₛₑₗf E", "titleX": -85, "titleBaseline": "middle"}},
            "stroke": {"field": "key", "type": "nominal", "legend": null}
          }
        },
        {
          "data": {"name": "sweeps"},
          "transform": [{"fold": ["b1", "b2", "b3"], "as": ["key", "value"]}, {"filter": "isValid(datum.value) && datum.s % 15 == 0"}],
          "mark": {"type": "point", "filled": false, "strokeWidth": 1.5, "size": 110, "opacity": 1},
          "encoding": {
            "x": {"field": "s", "type": "quantitative", "axis": {"orient": "top", "offset": -326, "values": [0,50,100,150,200,250,300,350,400,450,500], "labels": false, "title": null}},
            "y": {"field": "value", "type": "quantitative", "axis": {"orient": "right", "values": [0.1, 0.00001, 0.000000001, 0.0000000000001], "labels": false, "title": null}},
            "color": {"field": "key", "type": "nominal"},
            "shape": {"field": "key", "type": "nominal"}
          }
        },
        {
          "data": {"values": [{}]},
          "mark": {"type": "text", "text": "(b)", "align": "left", "baseline": "middle", "dx": 7, "fontSize": 23},
          "encoding": {"x": {"datum": 0, "type": "quantitative", "axis": null}, "y": {"datum": 6.7e-13, "type": "quantitative", "axis": null}}
        }
      ],
      "resolve": {"axis": {"x": "independent", "y": "independent"}}
    },
    {
      "layer": [
        {
          "data": {"values": [{}]},
          "mark": {"type": "rect", "fill": "white", "stroke": "#222", "strokeWidth": 1},
          "encoding": {
            "x": {"datum": 0, "type": "quantitative", "scale": {"domain": [0, 50], "range": [457.7, 931.7], "nice": false, "zero": false}, "axis": {"orient": "bottom", "offset": -520.7, "values": [0,10,20,30,40,50], "format": "d", "title": "site j", "titleY": 55, "titleBaseline": "middle", "tickSize": -7, "labelPadding": 16, "labelFontSize": 18, "titleFontSize": 18}},
            "x2": {"datum": 50},
            "y": {"datum": -0.06, "type": "quantitative", "scale": {"domain": [-0.06, 1.043], "range": [459.3, 356.3], "nice": false, "zero": false}, "axis": {"orient": "left", "offset": -457.7, "values": [0, 0.5, 1], "format": "~g", "title": "⟨n̂ⱼ⟩fᵢₙₐₗ", "titleX": -77, "titleBaseline": "middle", "tickSize": -7, "labelPadding": 16, "labelFontSize": 18, "titleFontSize": 19}},
            "y2": {"datum": 1.043}
          }
        },
        {
          "data": {"name": "sites"},
          "transform": [{"fold": ["m1", "m2", "m3"], "as": ["key", "value"]}],
          "mark": {"type": "line", "strokeWidth": 1.7},
          "encoding": {
            "x": {"field": "j", "type": "quantitative", "axis": null},
            "y": {"field": "value", "type": "quantitative", "axis": null},
            "stroke": {"field": "key", "type": "nominal", "legend": null}
          }
        },
        {
          "data": {"name": "sites"},
          "transform": [{"fold": ["m1", "m2", "m3"], "as": ["key", "value"]}],
          "mark": {"type": "point", "filled": false, "strokeWidth": 1.5, "size": 110, "opacity": 1},
          "encoding": {
            "x": {"field": "j", "type": "quantitative", "axis": {"orient": "top", "offset": -356.3, "values": [0,10,20,30,40,50], "labels": false, "title": null, "tickSize": -7}},
            "y": {"field": "value", "type": "quantitative", "axis": {"orient": "right", "offset": -33.3, "values": [0, 0.5, 1], "labels": false, "title": null, "tickSize": -7}},
            "color": {"field": "key", "type": "nominal"},
            "shape": {"field": "key", "type": "nominal"}
          }
        }
      ],
      "resolve": {"axis": {"x": "independent", "y": "independent"}}
    },
    {
      "layer": [
        {
          "data": {"name": "sweeps"},
          "transform": [{"fold": ["c1", "c2", "c3"], "as": ["key", "value"]}, {"filter": "isValid(datum.value)"}],
          "mark": {"type": "line", "strokeWidth": 1.7},
          "encoding": {
            "x": {"field": "s", "type": "quantitative", "scale": {"domain": [0, 500], "nice": false, "zero": false}, "axis": {"orient": "bottom", "values": [0,50,100,150,200,250,300,350,400,450,500], "format": "d", "title": "sweeps", "titleY": 44, "titleBaseline": "middle", "titleFontSize": 17}},
            "y": {"field": "value", "type": "quantitative", "scale": {"type": "log", "domain": [5.94e-14, 5.445], "range": [980, 653], "nice": false}, "axis": {"orient": "left", "values": [0.1, 0.00001, 0.000000001, 0.0000000000001], "labelExpr": "datum.value > 0.01 ? '10⁻¹' : datum.value > 0.0000001 ? '10⁻⁵' : datum.value > 0.00000000001 ? '10⁻⁹' : '10⁻¹³'", "title": "δE", "titleX": -85, "titleBaseline": "middle"}},
            "stroke": {"field": "key", "type": "nominal", "legend": null}
          }
        },
        {
          "data": {"name": "sweeps"},
          "transform": [{"fold": ["c1", "c2", "c3"], "as": ["key", "value"]}, {"filter": "isValid(datum.value) && datum.s % 15 == 0"}],
          "mark": {"type": "point", "filled": false, "strokeWidth": 1.5, "size": 110, "opacity": 1},
          "encoding": {
            "x": {"field": "s", "type": "quantitative", "axis": {"orient": "top", "offset": -653, "values": [0,50,100,150,200,250,300,350,400,450,500], "labels": false, "title": null}},
            "y": {"field": "value", "type": "quantitative", "axis": {"orient": "right", "values": [0.1, 0.00001, 0.000000001, 0.0000000000001], "labels": false, "title": null}},
            "color": {"field": "key", "type": "nominal", "legend": {"orient": "none", "legendX": 670, "legendY": 669, "values": ["c1", "c2", "c3"], "title": null, "labelExpr": "datum.value == 'c1' ? 'ℛ₁ : |ψᵢₙ,₁⟩ , sα₌₁ = 30' : datum.value == 'c2' ? 'ℛ₂ : |ψᵢₙ,₁⟩ , sα₌₁ = \u20071' : 'ℛ₃ : |ψᵢₙ,₂⟩ , sα₌₁ = 30'", "strokeColor": "#222", "fillColor": "white", "padding": 8, "rowPadding": 7, "labelFontSize": 20, "labelLimit": 400, "labelOffset": 6, "symbolStrokeWidth": 1.5, "symbolSize": 100, "cornerRadius": 0}},
            "shape": {"field": "key", "type": "nominal", "legend": {"orient": "none", "legendX": 670, "legendY": 669, "values": ["c1", "c2", "c3"], "title": null, "labelExpr": "datum.value == 'c1' ? 'ℛ₁ : |ψᵢₙ,₁⟩ , sα₌₁ = 30' : datum.value == 'c2' ? 'ℛ₂ : |ψᵢₙ,₁⟩ , sα₌₁ = \u20071' : 'ℛ₃ : |ψᵢₙ,₂⟩ , sα₌₁ = 30'", "strokeColor": "#222", "fillColor": "white", "padding": 8, "rowPadding": 7, "labelFontSize": 20, "labelLimit": 400, "labelOffset": 6, "symbolStrokeWidth": 1.5, "symbolSize": 100, "cornerRadius": 0}}
          }
        },
        {
          "data": {"values": [{}]},
          "mark": {"type": "text", "text": "(c)", "align": "left", "baseline": "middle", "dx": 7, "fontSize": 23},
          "encoding": {"x": {"datum": 0, "type": "quantitative", "axis": null}, "y": {"datum": 6.7e-13, "type": "quantitative", "axis": null}}
        }
      ],
      "resolve": {"axis": {"x": "independent", "y": "independent"}}
    }
  ],
  "resolve": {
    "scale": {"x": "independent", "y": "independent"},
    "axis": {"x": "independent", "y": "independent"}
  }
}
